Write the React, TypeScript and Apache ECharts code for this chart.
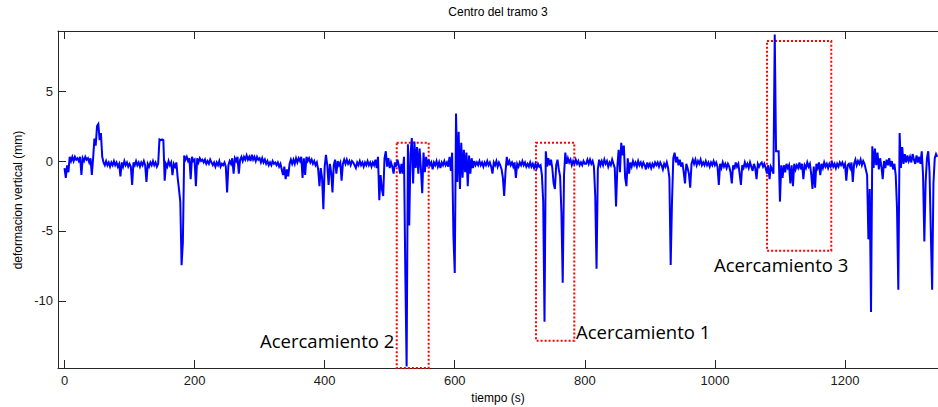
import { useEffect, useRef } from "react";
import * as echarts from "echarts";

// Vertical deformation (mm) at mid-span 3, sampled every 2 s.
const SAMPLE_PERIOD_S = 2;

const part01 = [-0.5, -1.2, -0.3, -0.8, 0.3, 0.0, 0.3, 0.0, 0.3, 0.1, 0.2, 0.0, 0.3, -1.0, 0.2, 0.0, 0.3, 0.1, 0.2, -0.1, 0.2, -1.0, 0.2, 1.6, 1.1, 2.5, 2.65, 1.5, 2.0, 0.3, -0.1, -0.3, 0.0, -0.3, -0.1, -0.4, -0.1, -0.3, 0.0, -0.3, -0.1, -0.4, -0.2, -1.1, -0.1, -0.4, 0.0, -0.3, -0.1, -0.4];
const part02 = [-0.2, -0.4, -1.7, -0.1, -0.3, 0.0, -0.3, -0.1, -0.4, -0.1, -0.3, 0.0, -0.3, -1.5, -0.2, -0.4, -0.1, -0.3, 0.0, -0.3, -0.1, -0.4, -0.2, 1.55, 1.5, 1.55, 1.5, -1.4, -0.2, -0.4, 0.0, -0.3, -0.1, -1.0, -0.2, -0.4, -0.1, -1.2, -2.0, -2.9, -7.45, -5.8, 0.4, 0.1, 0.3, 0.0, 0.2, -1.3, 0.3, 0.0];
const part03 = [0.1, -1.8, 0.2, -0.1, 0.2, 0.0, 0.1, -0.1, 0.1, -0.2, 0.0, -0.2, 0.1, -0.1, -0.3, -0.1, -0.4, -0.1, -0.3, 0.0, -0.4, -0.2, -0.3, -0.1, -0.4, -2.25, -0.3, 0.0, -0.2, 0.2, -0.9, 0.2, 0.0, 0.3, -0.9, 0.1, 0.3, 0.0, 0.3, 0.1, 0.4, 0.1, 0.3, 0.0, 0.45, 0.1, 0.3, 0.0, 0.3, 0.1];
const part04 = [0.2, -0.1, 0.2, -0.1, 0.1, -0.2, 0.0, -0.3, -0.1, -0.3, 0.0, -0.2, -0.1, -0.3, -0.1, -0.4, -0.2, -0.6, -1.0, -0.4, -1.3, -0.6, -1.1, -0.2, 0.1, -0.2, 0.1, -0.2, 0.2, -0.1, 0.2, 0.0, 0.3, -1.2, 0.2, -1.0, 0.3, 0.0, 0.2, -0.1, 0.1, -0.2, 0.0, -0.3, -0.1, -0.6, -1.8, -0.5, -1.2, -3.45];
const part05 = [-0.4, 0.45, -0.3, -1.7, -0.2, -0.8, -2.25, -0.3, 0.1, -0.9, 0.0, -0.3, -0.1, -1.4, -0.2, 0.1, -0.2, 0.1, -0.2, 0.0, -0.3, 0.0, -0.1, -0.3, -0.5, -0.1, -0.3, 0.0, -0.3, -0.1, -0.4, -0.1, -0.3, 0.0, -0.3, -0.1, -0.4, -0.1, -0.3, 0.1, -0.5, 0.3, -2.8, -1.0, -2.0, -2.5, 0.2, 0.7, -0.4, 0.2, -0.5];
const part06 = [-0.1, -0.4, -0.9, -0.1, -0.4, 0.1, -0.3, -0.9, -0.2, -0.9, 0.3, -8.0, -14.7, 1.2, -4.6, 0.5, 1.65, -1.6, 1.4, -0.5, 1.0, -0.9, 0.9, -0.6, -2.3, 0.6, -0.8, 0.3, -0.4, 0.1, -0.3, -0.1, -0.6, -0.1, -0.3, 0.0, -0.4, -0.1, -0.5, -0.1, -0.3, 0.0, -0.3, -0.1, -0.4, 0.3, -0.7, 0.6, -5.4, -8.0];
const part07 = [3.4, -1.5, 2.1, -2.0, 1.3, -1.2, 0.8, -0.8, 0.6, -1.8, 0.4, -0.9, 0.2, -0.5, 0.0, -0.3, -0.1, -0.3, 0.0, -0.3, -0.1, -0.4, -0.1, -0.3, 0.0, -0.3, -0.1, -0.4, -0.9, -0.1, -0.3, 0.0, -0.4, -0.1, -0.3, -0.6, -1.2, -2.5, -0.8, 0.3, -0.3, 0.0, -0.3, -0.1, -0.4, -0.1, -1.2, -0.2, -0.4, -0.1];
const part08 = [-0.3, 0.0, -0.3, -0.1, -0.4, -0.2, -0.4, -0.1, -0.4, -0.2, -0.5, -0.2, -0.5, -0.2, -0.4, -0.3, -1.0, -2.9, -11.5, 0.7, -0.4, 0.2, -0.3, 0.1, -0.5, -1.6, -2.0, -0.3, 0.1, -0.6, -1.1, -3.7, -8.7, -1.0, 0.6, -0.2, 0.2, -0.1, 0.1, -0.3, 0.0, -0.2, 0.1, -0.2, 0.0, -0.3, -0.1, -0.3, 0.0, -0.2];
const part09 = [-0.2, 0.1, -0.2, 0.1, -0.2, 0.0, -0.4, -2.5, -7.7, -0.6, 0.1, -0.3, 0.0, -0.3, 0.1, -0.2, 0.0, -0.4, -0.1, -0.3, 0.1, -0.2, -0.5, -3.25, -0.4, 0.8, -0.8, 1.3, 0.4, 1.1, -1.2, -1.8, 0.2, -0.9, -0.1, -0.4, 0.0, -0.3, -0.1, -0.4, 0.0, -0.3, -0.1, -0.4, -0.1, -0.3, -0.6, -0.1, -0.4, -0.2, -0.5];
const part10 = [-0.2, -0.4, -0.1, -0.3, -0.1, -0.4, -0.1, -0.3, -0.6, -0.2, -0.4, -0.1, -0.5, -1.2, -7.43, -3.0, 0.2, 0.6, -0.1, 0.3, -0.3, 0.1, -0.4, -0.1, -0.8, -1.6, -0.2, -0.5, -0.9, -1.9, -0.2, 0.1, -0.2, 0.1, -0.3, 0.0, -0.2, 0.1, -0.3, -0.1, -0.3, 0.0, -0.3, -0.1, -0.4, -0.1, -0.3, 0.0, -0.3, -0.1];
const part11 = [-0.4, -1.7, -0.2, -0.5, -0.1, -0.4, -0.2, -0.5, -0.2, -0.4, -0.8, -1.6, -0.3, -0.6, -0.1, -0.4, -0.2, -0.9, -1.7, -0.3, -0.5, -0.1, -0.4, -0.2, -0.5, -0.1, -0.4, -0.7, -0.2, -0.5, -1.3, -0.2, -0.4, -0.2, -0.1, -0.4, -0.2, -0.5, -0.9, -0.3, -1.3, -0.4, -0.6, -0.9, 9.05, 0.7, 0.7, 0.7, -2.9, -0.3, -1.2];
const part12 = [-0.3, -0.8, -0.2, -0.5, -0.3, -1.6, -0.3, -1.8, -0.2, -0.6, -0.3, -0.5, -0.1, -0.6, -0.2, -1.3, -0.3, -0.5, -0.1, -0.4, -0.2, -0.9, -2.0, -0.4, -1.9, -0.2, -0.5, -0.1, -1.0, -0.2, -0.5, -0.1, -0.4, -0.2, -0.5, -0.2, -0.4, -0.1, -0.4, -0.2, -0.5, -0.2, -0.4, -0.1, -0.3, -0.1, -0.4, -0.2, -1.4, -0.3];
const part13 = [-0.2, -0.5, -0.1, -1.5, -0.2, 0.1, -0.3, 0.0, -0.2, 0.1, -0.3, 0.0, -0.2, -0.6, -1.0, -5.6, -2.0, -10.8, 1.05, -0.5, 0.9, -0.3, 0.6, -0.6, 0.2, -0.4, -1.3, 0.0, -0.5, 0.1, -0.3, 0.2, -0.4, 0.0, -0.6, -0.2, -1.0, -3.4, -9.2, 2.0, -0.5, 1.0, -0.2, 0.5, -0.1, 0.4, 0.0, 0.3, -0.1, 0.5];
const part14 = [0.1, -0.2, 0.4, -0.1, 0.3, -0.2, 0.7, -1.0, -5.76, -1.5, 0.2, 0.7, -0.8, -5.2, -9.2, -1.6, 0.2, 0.5, 0.3];

const deformacion = [
  ...part01, ...part02, ...part03, ...part04, ...part05, ...part06, ...part07,
  ...part08, ...part09, ...part10, ...part11, ...part12, ...part13, ...part14,
];

const xTickValues = [0, 200, 400, 600, 800, 1000, 1200];
const yTickValues = [-10, -5, 0, 5];

// Zoomed regions, in data units (s, mm).
const zoomBoxes = [
  { name: "Acercamiento 1", t0: 724.9, t1: 783.8, vTop: 1.31, vBottom: -12.85 },
  { name: "Acercamiento 2", t0: 510.8, t1: 559.9, vTop: 1.31, vBottom: -15.37 },
  { name: "Acercamiento 3", t0: 1080.1, t1: 1178.9, vTop: 8.58, vBottom: -6.41 },
];

const AXIS_COLOR = "#262626";
const TICK_FONT = "'Liberation Sans', Arial, sans-serif";
const NOTE_FONT = "'Open Sans', sans-serif";

const plainNumber = (v: number) => String(v);

export default function App() {
  const ref = useRef<HTMLDivElement>(null);

  useEffect(() => {
    if (!ref.current) return;
    const chart = echarts.init(ref.current, null, { renderer: "svg" });
    const serie = deformacion.map((v, i) => [i * SAMPLE_PERIOD_S, v]);

    const axisLine = { show: true, onZero: false, lineStyle: { color: AXIS_COLOR, width: 1 } };

    chart.setOption({
      animation: false,
      backgroundColor: "#ffffff",
      grid: { left: 58, top: 31, right: 0, bottom: 39 },
      xAxis: [
        {
          type: "value",
          position: "bottom",
          min: -10,
          max: 1343,
          axisLine,
          axisTick: { show: true, inside: true, length: 8, customValues: xTickValues, lineStyle: { color: AXIS_COLOR } },
          axisLabel: { customValues: xTickValues, formatter: plainNumber, color: "#1a1a1a", fontFamily: TICK_FONT, fontSize: 13, margin: 6 },
          splitLine: { show: false },
        },
        {
          type: "value",
          position: "top",
          min: -10,
          max: 1343,
          axisLine,
          axisTick: { show: true, inside: true, length: 8, customValues: xTickValues, lineStyle: { color: AXIS_COLOR } },
          axisLabel: { show: false },
          splitLine: { show: false },
        },
      ],
      yAxis: {
        type: "value",
        min: -14.8,
        max: 9.3,
        axisLine,
        axisTick: { show: true, inside: true, length: 8, customValues: yTickValues, lineStyle: { color: AXIS_COLOR } },
        axisLabel: { customValues: yTickValues, formatter: plainNumber, color: "#1a1a1a", fontFamily: TICK_FONT, fontSize: 13, margin: 5 },
        splitLine: { show: false },
      },
      series: [
        {
          type: "line",
          xAxisIndex: 0,
          data: serie,
          showSymbol: false,
          symbol: "none",
          clip: false,
          lineStyle: { color: "#0000ff", width: 2, join: "miter" },
          emphasis: { disabled: true },
          markArea: {
            silent: true,
            label: { show: false },
            itemStyle: {
              color: "rgba(0,0,0,0)",
              borderColor: "#ff0000",
              borderWidth: 2,
              borderType: [2, 2],
            },
            data: zoomBoxes.map((b) => [
              { coord: [b.t0, b.vTop] },
              { coord: [b.t1, b.vBottom] },
            ]),
          },
        },
      ],
      graphic: [
        {
          type: "text",
          x: 498,
          y: 12,
          style: { text: "Centro del tramo 3", fill: "#000", font: `12px ${TICK_FONT}`, textAlign: "center", textVerticalAlign: "middle" },
        },
        {
          type: "text",
          x: 498,
          y: 398,
          style: { text: "tiempo (s)", fill: "#000", font: `12px ${TICK_FONT}`, textAlign: "center", textVerticalAlign: "middle" },
        },
        {
          type: "text",
          x: 18,
          y: 200,
          rotation: Math.PI / 2,
          style: { text: "deformacion vertical (mm)", fill: "#000", font: `12px ${TICK_FONT}`, textAlign: "center", textVerticalAlign: "middle" },
        },
        {
          type: "text",
          x: 576,
          y: 331.5,
          style: { text: zoomBoxes[0].name, fill: "#000", font: `18.5px ${NOTE_FONT}`, textAlign: "left", textVerticalAlign: "middle" },
        },
        {
          type: "text",
          x: 260,
          y: 340,
          style: { text: zoomBoxes[1].name, fill: "#000", font: `18.5px ${NOTE_FONT}`, textAlign: "left", textVerticalAlign: "middle" },
        },
        {
          type: "text",
          x: 714,
          y: 264,
          style: { text: zoomBoxes[2].name, fill: "#000", font: `18.5px ${NOTE_FONT}`, textAlign: "left", textVerticalAlign: "middle" },
        },
      ],
    });

    return () => chart.dispose();
  }, []);

  return (
    <div
      ref={ref}
      style={{ position: "absolute", left: 0, top: 0, width: 938, height: 407, background: "#ffffff" }}
    />
  );
}
